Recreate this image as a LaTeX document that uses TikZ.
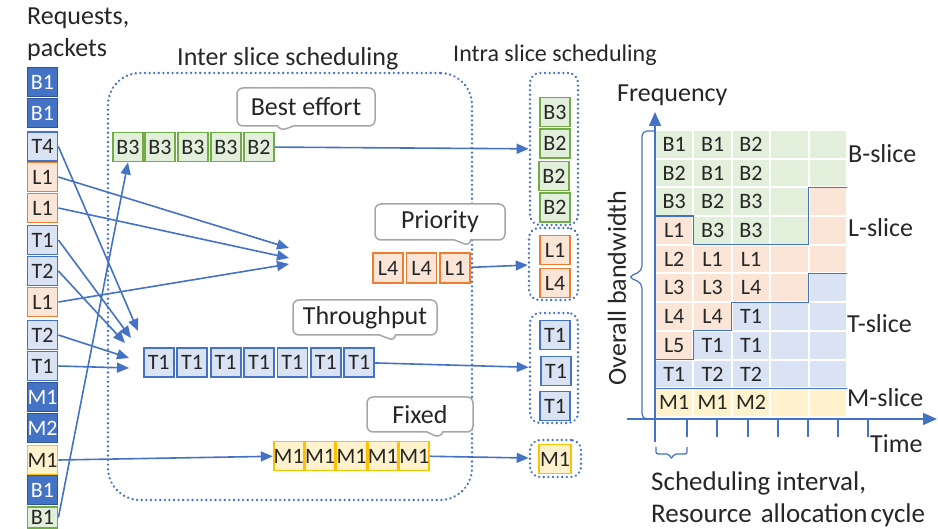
\documentclass[tikz,border=0pt]{standalone}
\usepackage{fontspec}
\setmainfont{Carlito}
\usetikzlibrary{arrows.meta,shapes.callouts}

\definecolor{bline}{HTML}{4472C4}
\definecolor{bfill}{HTML}{DAE3F3}
\definecolor{gline}{HTML}{70AD47}
\definecolor{gfill}{HTML}{E2EFDA}
\definecolor{oline}{HTML}{ED7D31}
\definecolor{ofill}{HTML}{FBE5D6}
\definecolor{yline}{HTML}{FFC000}
\definecolor{yfill}{HTML}{FFF2CC}
\definecolor{dline}{HTML}{2F5597}
\definecolor{tline}{HTML}{A6A6A6}
\definecolor{ink}{HTML}{262626}

\tikzset{
  pkt/.style={draw, line width=1.8pt, minimum width=30pt, minimum height=29pt,
    inner sep=0pt, text=ink, font=\fontsize{22}{22}\selectfont},
  gpkt/.style={pkt, draw=gline, fill=gfill},
  opkt/.style={pkt, draw=oline, fill=ofill},
  bpkt/.style={pkt, draw=bline, fill=bfill},
  ypkt/.style={pkt, draw=yline, fill=yfill},
  dpkt/.style={pkt, draw=dline, fill=bline, text=white},
  cell/.style={minimum width=36.4pt, minimum height=26.7pt, inner sep=0pt,
    text=ink, font=\fontsize{22}{22}\selectfont},
  group/.style={draw=bline, line width=2.6pt, dash pattern=on 0.01pt off 4.6pt,
    line cap=round, rounded corners=10pt},
  tag/.style={rectangle callout, draw=tline, fill=white, line width=1.5pt,
    rounded corners=6pt, inner sep=0pt, callout pointer width=16pt,
    text=ink, font=\fontsize{26}{26}\selectfont},
  lbl/.style={anchor=base west, inner sep=0pt, text=ink,
    font=\fontsize{26}{26}\selectfont},
  flow/.style={draw=bline, line width=1.6pt, -{Triangle[length=12pt,width=10pt]}},
  slice/.style={draw=bline, line width=1.2pt},
  brc/.style={draw=bline, line width=1.2pt, rounded corners=5pt},
}

\begin{document}
\begin{tikzpicture}[x=1pt,y=-1pt]
  \useasboundingbox (0,0) rectangle (938,529);
  \clip (0,0) rectangle (938,529);

  % scheduling groups
  \node[group, rounded corners=32pt, minimum width=364pt, minimum height=427pt] (inter) at (290,286.5) {};
  \node[group, minimum width=48pt, minimum height=152pt] (ib) at (554,149) {};
  \node[group, minimum width=49pt, minimum height=72pt] (il) at (553.5,264) {};
  \node[group, minimum width=48pt, minimum height=110pt] (it) at (554,368) {};
  \node[group, minimum width=51pt, minimum height=37pt] (im) at (555.5,458.5) {};

  % callouts
  \node[tag, minimum width=138pt, minimum height=38pt, callout absolute pointer={(280,131)}] (be) at (306,107) {Best effort};
  \node[tag, minimum width=130pt, minimum height=36pt, callout absolute pointer={(470,246)}] (pr) at (440,222) {Priority};
  \node[tag, minimum width=144pt, minimum height=35pt, callout absolute pointer={(395,341)}] (th) at (365,317.5) {Throughput};
  \node[tag, minimum width=106pt, minimum height=35pt, callout absolute pointer={(440,438)}] (fx) at (420,414.5) {Fixed};

  % incoming requests
  \begin{scope}[every node/.style={minimum width=31pt, minimum height=30pt}]
    \node[dpkt] (q1)  at (42.5,82)  {B1};
    \node[dpkt] (q2)  at (42.5,113) {B1};
    \node[bpkt] (q3)  at (42.5,146.5) {T4};
    \node[opkt] (q4)  at (42.5,177) {L1};
    \node[opkt] (q5)  at (42.5,208) {L1};
    \node[bpkt] (q6)  at (42.5,240) {T1};
    \node[bpkt] (q7)  at (42.5,271) {T2};
    \node[opkt] (q8)  at (42.5,302) {L1};
    \node[bpkt] (q9)  at (42.5,335) {T2};
    \node[bpkt] (q10) at (42.5,366) {T1};
    \node[dpkt] (q11) at (42.5,397) {M1};
    \node[dpkt] (q12) at (42.5,428) {M2};
    \node[ypkt] (q13) at (42.5,460) {M1};
    \node[dpkt] (q14) at (42.5,490) {B1};
    \node[gpkt, minimum height=21pt] (q15) at (42.5,517.5) {B1};
  \end{scope}

  % inter slice queues
  \node[gpkt] (g1) at (128,147) {B3};
  \node[gpkt] (g2) at (160,147) {B3};
  \node[gpkt] (g3) at (193,147) {B3};
  \node[gpkt] (g4) at (226,147) {B3};
  \node[gpkt] (g5) at (259,147) {B2};

  \node[opkt, minimum height=30pt] (o1) at (388,268) {L4};
  \node[opkt, minimum height=30pt] (o2) at (421.5,268) {L4};
  \node[opkt, minimum height=30pt] (o3) at (455,268) {L1};

  \begin{scope}[every node/.style={minimum width=31pt, minimum height=31pt}]
    \node[bpkt] (t1) at (158.7,362.5) {T1};
    \node[bpkt] (t2) at (192.1,362.5) {T1};
    \node[bpkt] (t3) at (225.6,362.5) {T1};
    \node[bpkt] (t4) at (259,362.5) {T1};
    \node[bpkt] (t5) at (292.4,362.5) {T1};
    \node[bpkt] (t6) at (325.9,362.5) {T1};
    \node[bpkt] (t7) at (359.3,362.5) {T1};
  \end{scope}

  \begin{scope}[every node/.style={minimum width=31.4pt, minimum height=32pt}]
    \node[ypkt] (m1) at (288.7,456) {M1};
    \node[ypkt] (m2) at (320.1,456) {M1};
    \node[ypkt] (m3) at (351.5,456) {M1};
    \node[ypkt] (m4) at (382.9,456) {M1};
    \node[ypkt] (m5) at (414.3,456) {M1};
  \end{scope}

  % intra slice queues
  \node[gpkt] (ib1) at (555,112) {B3};
  \node[gpkt] (ib2) at (555,143.5) {B2};
  \node[gpkt] (ib3) at (554,176) {B2};
  \node[gpkt] (ib4) at (555,207.5) {B2};
  \node[opkt] (il1) at (555,250) {L1};
  \node[opkt] (il2) at (555,283) {L4};
  \node[bpkt] (it1) at (555,335) {T1};
  \node[bpkt] (it2) at (556,371) {T1};
  \node[bpkt] (it3) at (555,406) {T1};
  \node[ypkt, minimum width=32pt] (im1) at (555,459) {M1};

  % arrow ends
  \coordinate (a1) at (138,331);
  \coordinate (a2) at (131,338);
  \coordinate (a3) at (125,343);
  \coordinate (a4) at (129,358);
  \coordinate (a5) at (129,368);
  \coordinate (b1) at (289,248);
  \coordinate (b2) at (289,258);
  \coordinate (b3) at (289,264);

  \draw[flow] (q3.east)  -- (a1);
  \draw[flow] (q4.east)  -- (b1);
  \draw[flow] (q5.east)  -- (b2);
  \draw[flow] (q6.east)  -- (a2);
  \draw[flow] (q7.east)  -- (a3);
  \draw[flow] (q8.east)  -- (b3);
  \draw[flow] (q9.east)  -- (a4);
  \draw[flow] (q10.east) -- (a5);
  \draw[flow] (q13.east) -- (m1);
  \draw[flow] (q15.east) -- (g1.south);

  \draw[flow] (g5) -- (ib);
  \draw[flow] (o3) -- (il);
  \draw[flow] (t7) -- (it);
  \draw[flow] (m5) -- (im);

  % resource grid
  \foreach \row [count=\r] in {
      {gfill/B1,gfill/B1,gfill/B2,gfill/,gfill/},
      {gfill/B2,gfill/B1,gfill/B2,gfill/,gfill/},
      {gfill/B3,gfill/B2,gfill/B3,gfill/,ofill/},
      {ofill/L1,gfill/B3,gfill/B3,gfill/,ofill/},
      {ofill/L2,ofill/L1,ofill/L1,ofill/,ofill/},
      {ofill/L3,ofill/L3,ofill/L4,ofill/,bfill/},
      {ofill/L4,ofill/L4,bfill/T1,bfill/,bfill/},
      {ofill/L5,bfill/T1,bfill/T1,bfill/,bfill/},
      {bfill/T1,bfill/T2,bfill/T2,bfill/,bfill/},
      {yfill/M1,yfill/M1,yfill/M2,yfill/,yfill/}}
    \foreach \c/\t [count=\k] in \row
      \node[cell, fill=\c] (c\r-\k) at ({674.2+38.4*(\k-1)},{144.35+28.7*(\r-1)}) {\t};

  \draw[slice] (655,216.1) -| (693.4,244.8) -| (808.6,187.4) -- (847,187.4);
  \draw[slice] (847,273.5) -| (808.6,302.2) -| (731.8,330.9) -| (693.4,359.6) -- (655,359.6);
  \draw[slice] (655,388.3) -- (847,388.3);

  % axes
  \draw[bline, line width=1.4pt, -{Triangle[length=14pt,width=12pt]}] (655,419) -- (655,112);
  \draw[bline, line width=1.4pt, -{Triangle[length=14pt,width=12pt]}] (627,419) -- (937,419);
  \draw[bline, line width=1.2pt] (655,419) -- (655,442);
  \foreach \x in {687,717,748,778,808,838,868}
    \draw[bline, line width=1.2pt] (\x,419) -- (\x,437);

  \draw[brc] (655,131) -- (642,131) -- (642,271) -- (628,277) -- (642,283) -- (642,419) -- (655,419);
  \draw[brc, rounded corners=2pt] (656,447) -- (656,454) -- (669,454) -- (671.5,459) -- (674,454) -- (687,454) -- (687,447);

  % labels
  \node[lbl] (req)  at (27,25)  {Requests,};
  \node[lbl] (pkts) at (27,57)  {packets};
  \node[lbl] (ttl1) at (177,66) {Inter slice scheduling};
  \node[lbl, font=\fontsize{24}{24}\selectfont] (ttl2) at (453,62) {Intra slice scheduling};
  \node[lbl] (freq) at (617,102) {Frequency};
  \node[lbl, anchor=center, rotate=90] (bw) at (617,288) {Overall bandwidth};
  \node[lbl] (sb) at (848,163) {B-slice};
  \node[lbl] (sl) at (848,237) {L-slice};
  \node[lbl] (st) at (847,333) {T-slice};
  \node[lbl] (sm) at (847,407) {M-slice};
  \node[lbl] (time) at (870,453) {Time};
  \node[lbl, font=\fontsize{27}{27}\selectfont] (int1) at (651,490) {Scheduling interval,};
  \node[lbl, font=\fontsize{27}{27}\selectfont] (int2) at (651,522) {Resource\hspace{3pt} allocation\hspace{-3pt} cycle};
\end{tikzpicture}
\end{document}
